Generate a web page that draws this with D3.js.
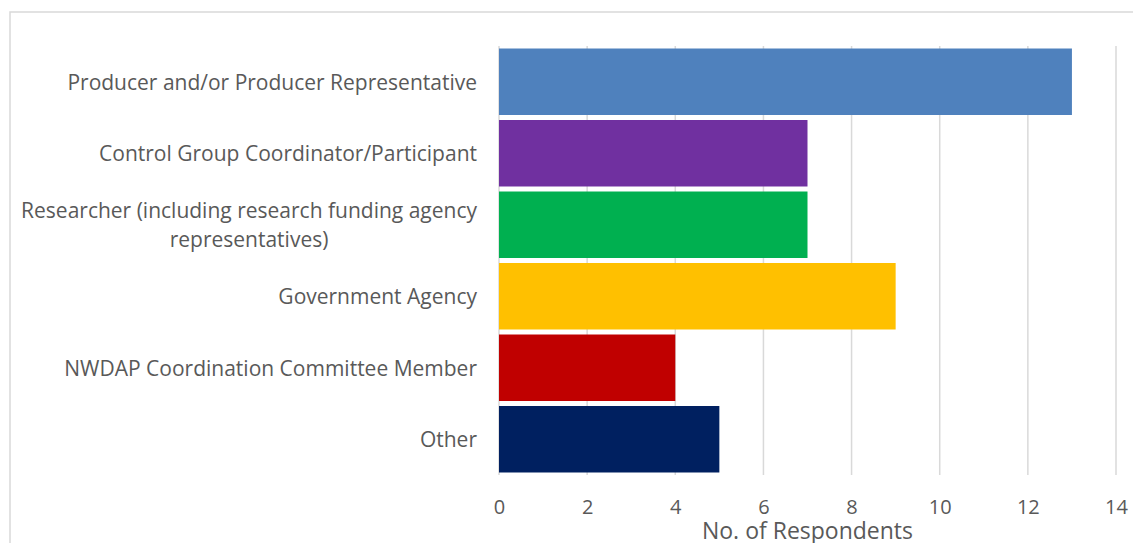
<!DOCTYPE html>
<html>
<head>
<meta charset="utf-8">
<script src="https://cdn.jsdelivr.net/npm/d3@7"></script>
<style>
  html, body { margin: 0; padding: 0; background: #fff; }
  svg { display: block; }
  text { font-family: "Open Sans", "Noto Sans", sans-serif; fill: #595959; }
</style>
</head>
<body>
<svg id="chart" width="1133" height="543"></svg>
<script>
// Respondent groups, top to bottom
const categories = [
  ["Producer and/or Producer Representative"],
  ["Control Group Coordinator/Participant"],
  ["Researcher (including research funding agency", "representatives)"],
  ["Government Agency"],
  ["NWDAP Coordination Committee Member"],
  ["Other"]
];
const respondents = [13, 7, 7, 9, 4, 5];
const barColors = ["#4f81bd", "#7030a0", "#00b050", "#ffc000", "#c00000", "#002060"];
const xTicks = [0, 2, 4, 6, 8, 10, 12, 14];
const xTitle = "No. of Respondents";

const svg = d3.select("#chart");
const W = 1133, H = 543;
const plot = { left: 499, right: 1116, top: 46, bottom: 475 };

// Outer chart frame
svg.append("rect")
  .attr("x", 10).attr("y", 12)
  .attr("width", W + 10).attr("height", H + 10)
  .attr("fill", "none").attr("stroke", "#d9d9d9").attr("stroke-width", 1.5);

const x = d3.scaleLinear().domain([0, 14]).range([plot.left, plot.right]);
const y = d3.scaleBand()
  .domain(d3.range(categories.length))
  .range([plot.top, plot.bottom])
  .paddingInner(0.07).paddingOuter(0.035);

// Vertical gridlines
svg.append("g").selectAll("line").data(xTicks).join("line")
  .attr("x1", d => x(d)).attr("x2", d => x(d))
  .attr("y1", plot.top).attr("y2", plot.bottom)
  .attr("stroke", "#d9d9d9").attr("stroke-width", 1.5);

// Bars
svg.append("g").selectAll("rect").data(respondents).join("rect")
  .attr("x", x(0))
  .attr("y", (d, i) => y(i))
  .attr("width", d => x(d) - x(0))
  .attr("height", y.bandwidth())
  .attr("fill", (d, i) => barColors[i]);

// X axis tick labels
const xAxis = d3.axisBottom(x).tickValues(xTicks).tickSize(0).tickPadding(0).tickFormat(d3.format("d"));
const gx = svg.append("g").attr("transform", `translate(0,${plot.bottom})`).call(xAxis);
gx.select(".domain").remove();
gx.selectAll("text")
  .attr("y", 39).attr("dy", null)
  .style("font-size", "20px").style("fill", "#595959")
  .style("font-family", '"Open Sans", "Noto Sans", sans-serif');

// Axis title
svg.append("text")
  .attr("x", (plot.left + plot.right) / 2)
  .attr("y", 539)
  .attr("text-anchor", "middle")
  .style("font-size", "23px")
  .text(xTitle);

// Category labels: right-aligned block, wrapped lines centred within it
const labelRight = 477;
const lineH = 29;
categories.forEach((lines, i) => {
  const cy = y(i) + y.bandwidth() / 2;
  const g = svg.append("g");
  const texts = lines.map((ln, k) => g.append("text")
    .style("font-size", "21px")
    .attr("text-anchor", "middle")
    .attr("dominant-baseline", "central")
    .attr("y", cy + (k - (lines.length - 1) / 2) * lineH)
    .text(ln));
  const widest = d3.max(texts, t => t.node().getComputedTextLength());
  texts.forEach(t => t.attr("x", labelRight - widest / 2));
});
</script>
</body>
</html>
